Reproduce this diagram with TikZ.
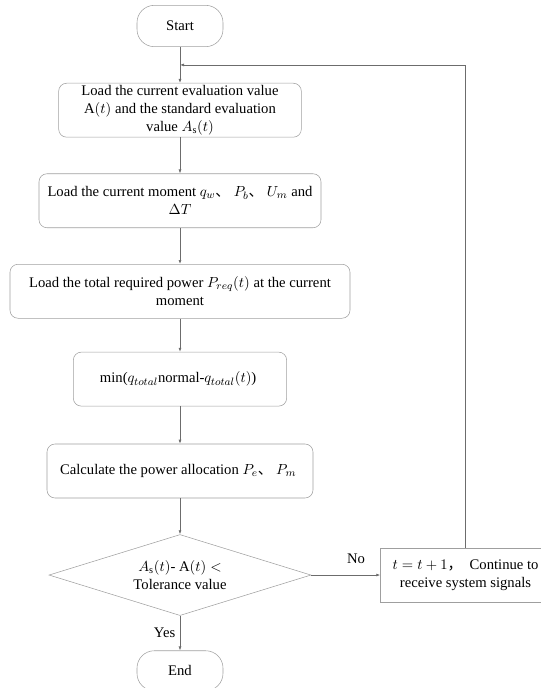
\documentclass[tikz,border=0pt]{standalone}
\usepackage{amsmath,amssymb}
\usepackage{fontspec}
\setmainfont{Liberation Serif}
\newfontfamily\cjk{Noto Sans CJK SC}
\newcommand{\enumsep}{{\cjk 、}}
\usepackage{xcolor}
\usetikzlibrary{arrows.meta, positioning, shapes.geometric, calc}

\begin{document}
\begin{tikzpicture}[
    font=\fontsize{11}{13.7}\selectfont,
    terminal/.style={
        draw=gray!75,
        rounded corners=13pt,
        minimum width=64.5pt,
        minimum height=31pt,
        align=center
    },
    stepbox/.style={
        draw=gray!75,
        rounded corners=6pt,
        minimum height=40.5pt,
        inner sep=1pt,
        align=center
    },
    decision/.style={
        draw=gray!75,
        diamond,
        aspect=3.23,
        minimum width=196.5pt,
        minimum height=60.75pt,
        inner sep=0pt,
        align=center
    },
    update/.style={
        draw=gray!75,
        minimum width=127.5pt,
        minimum height=40.5pt,
        inner sep=1pt,
        align=center
    },
    arrow/.style={-{Latex[length=3pt,width=2.2pt]}, draw=gray!85!black, line width=0.5pt}
]

\useasboundingbox (0,0) rectangle (405pt,-516pt);

% Main flow
\node[terminal] (start) at (135pt,-19.5pt) {Start};
\node[stepbox, minimum width=182pt, below=27pt of start] (loadeval) {
Load the current evaluation value\\
A$(t)$ and the standard evaluation\\
value $A_{\mathrm{s}}(t)$
};
\node[stepbox, minimum width=211.5pt, below=27pt of loadeval] (loadmoment) {
Load the current moment $q_w$\enumsep\ $P_b$\enumsep\ $U_m$ and\\
$\Delta T$
};
\node[stepbox, minimum width=255pt, below=27pt of loadmoment] (loadpower) {
Load the total required power $P_{req}(t)$ at the current\\
moment
};
\node[stepbox, minimum width=160pt, below=25pt of loadpower] (minq) {
min($q_{total}$normal-$q_{total}(t)$)
};
\node[stepbox, minimum width=199.5pt, below=28pt of minq] (alloc) {
Calculate the power allocation $P_e$\enumsep\ $P_m$
};
\node[decision, below=27pt of alloc] (check) {
$A_{\mathrm{s}}(t)$- A$(t)<$\\
Tolerance value
};
\node[terminal, minimum height=30pt, below=26pt of check] (end) {End};

% Loop back
\node[update, right=51.75pt of check] (next) {
$t=t+1${\cjk ，}\enspace Continue to\\
receive system signals
};
\coordinate (join) at ($(start.south)!0.5!(loadeval.north)$);

% Connections
\draw[arrow] (start.south) -- (loadeval.north);
\draw[arrow] (loadeval.south) -- (loadmoment.north);
\draw[arrow] (loadmoment.south) -- (loadpower.north);
\draw[arrow] (loadpower.south) -- (minq.north);
\draw[arrow] (minq.south) -- (alloc.north);
\draw[arrow] (alloc.south) -- (check.north);
\draw[arrow] (check.south) -- node[left]{Yes} (end.north);
\draw[arrow] (check.east) -- node[above=5pt, pos=0.65]{No} (next.west);
\draw[arrow] (next.north) |- (join);

\end{tikzpicture}
\end{document}
